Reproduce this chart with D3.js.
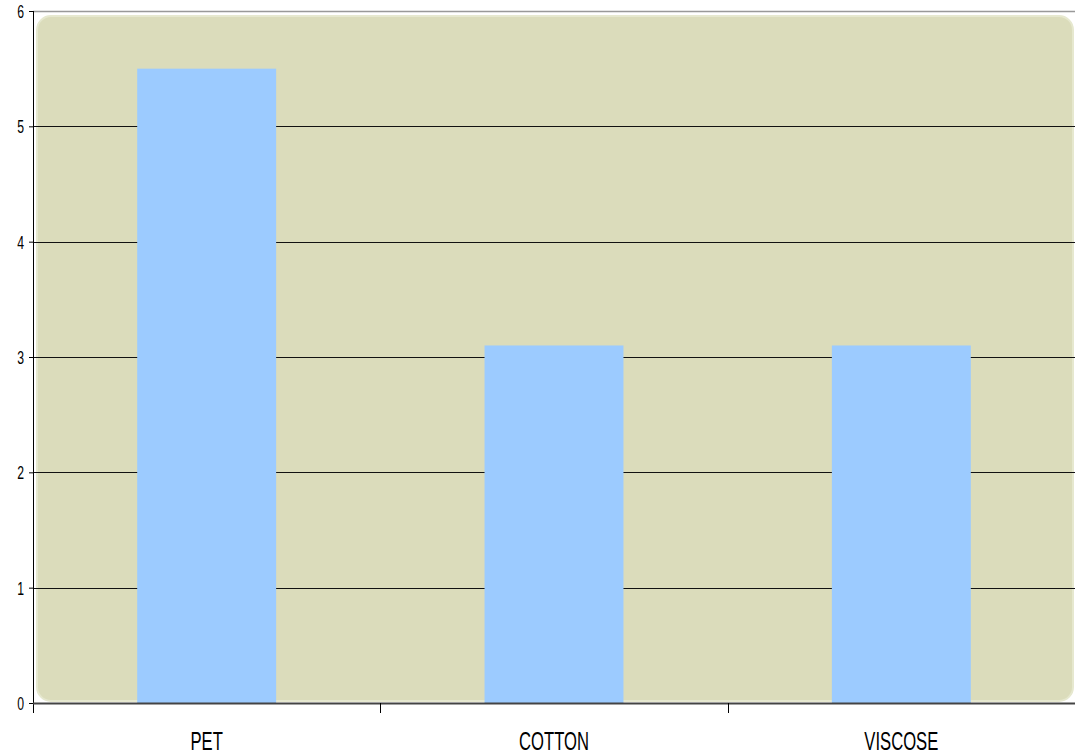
<!DOCTYPE html>
<html>
<head>
<meta charset="utf-8">
<script src="https://cdnjs.cloudflare.com/ajax/libs/d3/7.8.5/d3.min.js"></script>
<style>
  body { margin: 0; background: #fff; }
  text { font-family: "Liberation Sans", Arial, sans-serif; }
</style>
</head>
<body>
<script>
var categories = ["PET", "COTTON", "VISCOSE"];
var values = [5.5, 3.1, 3.1];
var yTicks = [0, 1, 2, 3, 4, 5, 6];

var w = 1075, h = 756;
var margin = {top: 11, right: 0, bottom: 53, left: 33};
var iw = w - margin.left - margin.right;
var ih = h - margin.top - margin.bottom;

var svg = d3.select("body").append("svg")
    .attr("width", w)
    .attr("height", h);

var g = svg.append("g")
    .attr("transform", "translate(" + margin.left + "," + margin.top + ")");

var x = d3.scaleBand()
    .domain(categories)
    .range([0, iw])
    .paddingInner(0.6)
    .paddingOuter(0.3);

var y = d3.scaleLinear()
    .domain([0, 6])
    .range([ih, 0]);

// top border
g.append("line")
    .attr("x1", 0).attr("x2", iw)
    .attr("y1", 0.5).attr("y2", 0.5)
    .attr("stroke", "#999")
    .attr("stroke-width", 1.5);

// plot background
g.append("rect")
    .attr("x", 4).attr("y", 5)
    .attr("width", iw - 6).attr("height", ih - 7)
    .attr("rx", 14).attr("ry", 14)
    .attr("fill", "#dbdcbb")
    .attr("stroke", "#e6e8cf")
    .attr("stroke-width", 2);

// gridlines
g.selectAll(".grid")
    .data(yTicks.filter(function(d){ return d > 0 && d < 6; }))
    .enter()
    .append("line")
    .attr("x1", 0).attr("x2", iw)
    .attr("y1", function(d){ return Math.round(y(d)) + 0.5; })
    .attr("y2", function(d){ return Math.round(y(d)) + 0.5; })
    .attr("stroke", "#111")
    .attr("stroke-width", 1);

// bars
g.selectAll(".bar")
    .data(values)
    .enter()
    .append("rect")
    .attr("x", function(d, i){ return x(categories[i]); })
    .attr("y", function(d){ return y(d); })
    .attr("width", x.bandwidth())
    .attr("height", function(d){ return ih - y(d); })
    .attr("fill", "#9ccbff");

// y axis
var yAxis = g.append("g")
    .call(d3.axisLeft(y).tickValues(yTicks).tickSize(4).tickFormat(d3.format("d")));
yAxis.select(".domain").attr("stroke", "#000").attr("d", "M0.5," + (ih + 10) + "V0");
yAxis.selectAll(".tick line").attr("stroke", "#000");
yAxis.selectAll(".tick text")
    .attr("x", null)
    .attr("dy", null)
    .attr("text-anchor", "end")
    .attr("dominant-baseline", "central")
    .attr("transform", "translate(-9,0) scale(0.68,1)")
    .attr("font-size", 18)
    .attr("fill", "#000");

// x axis
var xb = d3.scaleLinear().domain([0, categories.length]).range([0, iw]);
g.append("line")
    .attr("x1", 0).attr("x2", iw)
    .attr("y1", ih + 0.5).attr("y2", ih + 0.5)
    .attr("stroke", "#444")
    .attr("stroke-width", 2);
g.selectAll(".xtick")
    .data(d3.range(1, categories.length))
    .enter()
    .append("line")
    .attr("x1", function(d){ return Math.round(xb(d)) + 0.5; })
    .attr("x2", function(d){ return Math.round(xb(d)) + 0.5; })
    .attr("y1", ih).attr("y2", ih + 10)
    .attr("stroke", "#000");
g.selectAll(".xlabel")
    .data(categories)
    .enter()
    .append("text")
    .attr("transform", function(d){
        return "translate(" + (x(d) + x.bandwidth() / 2) + "," + (ih + 47) + ") scale(0.64,1)";
    })
    .attr("text-anchor", "middle")
    .attr("font-size", 26)
    .attr("fill", "#000")
    .text(function(d){ return d; });
</script>
</body>
</html>
